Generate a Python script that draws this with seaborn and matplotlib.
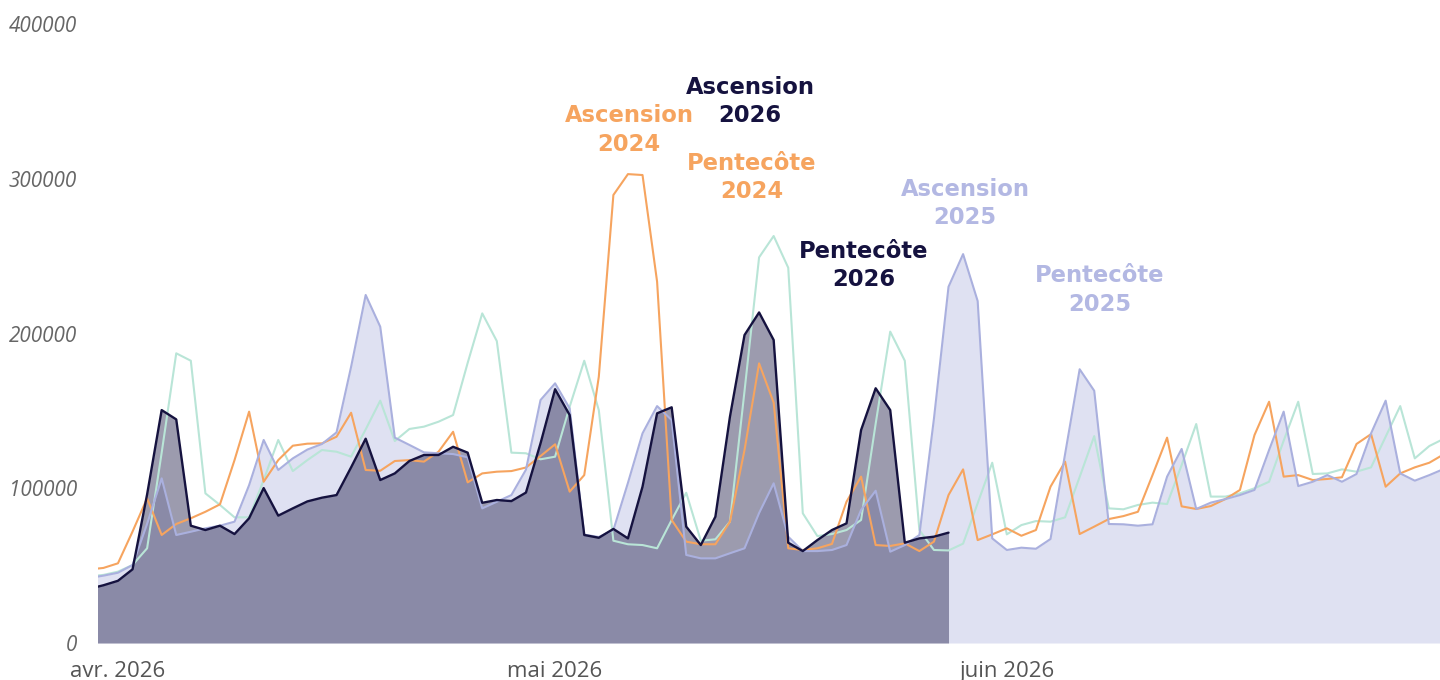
import numpy as np
import pandas as pd
import matplotlib
matplotlib.use("Agg")
import matplotlib.pyplot as plt
import matplotlib.dates as mdates
import seaborn as sns

# ---- data (daily, starting 2026-03-30) ----
start = "2026-03-30"
s2026 = [35000, 37300, 40200, 47600, 96000, 150500, 144500, 75800, 73000, 75800,
         70400, 80600, 100100, 82300, 87000, 91500, 93900, 95600, 113500, 132000,
         105300, 109600, 117600, 121500, 121500, 126800, 123000, 90600, 92400, 91700,
         97200, 129000, 164000, 147300, 69800, 68000, 73700, 67600, 101000, 148400,
         152300, 75200, 63300, 81600, 146200, 199000, 213600, 195800, 64800, 59400,
         66500, 73000, 77300, 137600, 164600, 150500, 64800, 67600, 68700, 71300]
s2025 = [42000, 43500, 45400, 50400, 77000, 106400, 69800, 71900, 74100, 75800,
         78400, 102000, 131200, 111800, 119300, 125000, 128600, 136100, 178500, 224900,
         204400, 132700, 128000, 123200, 122600, 122100, 120000, 87000, 91300, 95600,
         112000, 157000, 167800, 151600, 70000, 68500, 73000, 103500, 135500, 153100,
         144100, 56900, 54700, 54700, 58000, 61200, 84000, 103200, 68700, 59400,
         59400, 60100, 63300, 86000, 98400, 59000, 63300, 69800, 145000, 230200,
         251300, 221000, 67600, 60100, 61600, 60900, 67200, 122100, 176900, 163000,
         76900, 76700, 75800, 76700, 107500, 125400, 86600, 90700, 93000, 95600,
         98900, 124700, 149500, 101400, 104200, 108500, 104200, 109200, 135500, 156600,
         109600, 104900, 108500, 112500]
s2024 = [47500, 48500, 51500, 72000, 93500, 69800, 76900, 80600, 84800, 89600,
         118200, 149500, 104200, 118200, 127500, 128800, 129000, 133300, 148800, 111800,
         111300, 117600, 118200, 117200, 123600, 136500, 103800, 109600, 110700, 111100,
         113400, 120800, 128400, 97800, 108500, 172100, 289500, 303000, 302400, 233500,
         79500, 65500, 63800, 63800, 78400, 124700, 180700, 155300, 61200, 60100,
         61200, 64000, 91300, 107500, 63300, 62700, 64400, 59400, 65500, 95600,
         112200, 66500, 70200, 74100, 69300, 73000, 101000, 117200, 70400, 75200,
         80100, 82000, 84800, 108500, 132700, 88300, 86600, 88500, 93000, 98900,
         134400, 155900, 107500, 108500, 105300, 106000, 107100, 128600, 135000, 101000,
         109600, 113500, 116500, 122000]
s2023 = [43000, 44000, 46100, 50400, 61200, 123000, 187200, 182400, 96700, 89200,
         81200, 81200, 105300, 131200, 111100, 118200, 124700, 123600, 120400, 138000,
         156600, 130500, 138300, 139800, 143000, 147300, 181000, 213000, 195100, 123000,
         122600, 118700, 120400, 152700, 182400, 150500, 66100, 63800, 63300, 61200,
         79500, 97100, 66100, 67000, 78400, 162800, 249200, 263000, 242500, 83800,
         69100, 70400, 73000, 79500, 141700, 201200, 182400, 73000, 60100, 59800,
         64200, 90300, 116500, 70200, 76200, 78800, 78400, 81200, 107300, 133700,
         87000, 86400, 89200, 90700, 89800, 115000, 141500, 94600, 94600, 96700,
         100000, 104200, 130700, 155900, 109200, 109600, 112200, 110700, 113500, 133300,
         153100, 119300, 127300, 132000]

tick_dates = ["2026-04-01", "2026-05-01", "2026-06-01"]
tick_labels = ["avr. 2026", "mai 2026", "juin 2026"]
y_ticks = [0, 100000, 200000, 300000, 400000]

ann_texts = ["Ascension\n2024", "Ascension\n2026", "Pentecôte\n2024",
             "Pentecôte\n2026", "Ascension\n2025", "Pentecôte\n2025"]
ann_series = ["2024", "2026", "2024", "2026", "2025", "2025"]

# ---- styles ----
C26 = "#15123f"
C25 = "#aab0de"
C25_FILL = "#dfe1f2"
C24 = "#f6a45f"
C23 = "#b9e5d7"

dates_full = pd.date_range(start, periods=len(s2025), freq="D")
dates_26 = pd.date_range(start, periods=len(s2026), freq="D")
df = pd.DataFrame({"date": dates_full, "2025": s2025, "2024": s2024, "2023": s2023})
df26 = pd.DataFrame({"date": dates_26, "2026": s2026})

sns.set_theme(style="white")
plt.rcParams["font.family"] = ["DejaVu Sans"]

fig = plt.figure(figsize=(14.4, 6.8), dpi=100)
ax = fig.add_axes([98 / 1440, 37 / 680, 1342 / 1440, 619 / 680])

# fills
ax.fill_between(df["date"], 0, df["2025"], color=C25_FILL, lw=0, zorder=1)
ax.fill_between(df26["date"], 0, df26["2026"], color=C26, alpha=0.42, lw=0, zorder=2)

# lines
sns.lineplot(data=df, x="date", y="2023", color=C23, lw=1.5, ax=ax, zorder=3)
sns.lineplot(data=df, x="date", y="2024", color=C24, lw=1.5, ax=ax, zorder=4)
sns.lineplot(data=df, x="date", y="2025", color=C25, lw=1.5, ax=ax, zorder=5)
sns.lineplot(data=df26, x="date", y="2026", color=C26, lw=1.7, ax=ax, zorder=6)

apr1 = mdates.date2num(pd.Timestamp("2026-04-01"))
ax.set_xlim(apr1 - 1.37, apr1 + 90.73)
ax.set_ylim(0, 400000)

ax.set_xticks([mdates.date2num(pd.Timestamp(d)) for d in tick_dates])
ax.set_xticklabels(tick_labels, fontsize=16, color="#555555", family=["Open Sans", "DejaVu Sans"])
ax.set_yticks(y_ticks)
ax.set_yticklabels([str(v) for v in y_ticks], fontsize=14.9, color="#666666",
                   style="italic", family=["Open Sans", "DejaVu Sans"])
ax.tick_params(axis="x", length=0, pad=13)
ax.tick_params(axis="y", length=0, pad=15)
ax.set_xlabel("")
ax.set_ylabel("")
for sp in ax.spines.values():
    sp.set_visible(False)
ax.grid(False)

# annotations
ann_colors = {"2024": C24, "2026": C26, "2025": "#b3b8e3"}
ann_pos = [(35.07, 331500), (43.38, 349900), (43.5, 300800),
           (51.2, 243900), (58.13, 284000), (67.4, 228100)]
for txt, ser, (dx, yv) in zip(ann_texts, ann_series, ann_pos):
    ax.text(apr1 + dx, yv, txt, ha="center", va="center", fontsize=16.3,
            fontweight="bold", color=ann_colors[ser], linespacing=1.3, zorder=10)

fig.savefig("out.png", dpi=100)
